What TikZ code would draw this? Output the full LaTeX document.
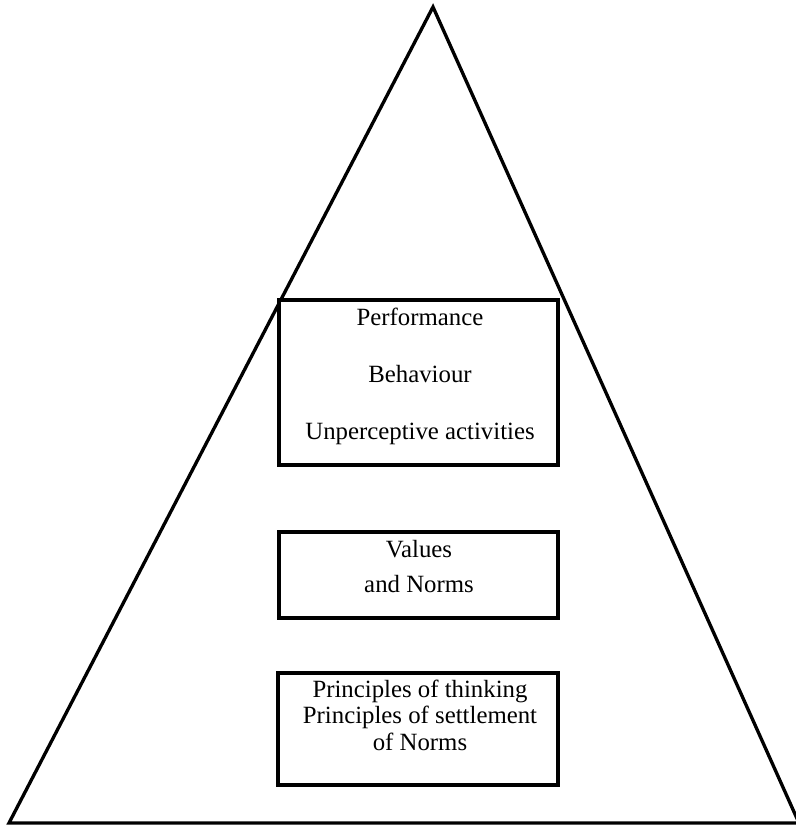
\documentclass[tikz,border=0pt]{standalone}
\usepackage{fontspec}
\setmainfont{Liberation Serif}
\begin{document}
\begin{tikzpicture}[x=0.75pt,y=-0.75pt,
  outline/.style={line width=2.5pt,line join=miter},
  panel/.style={draw,line width=2.6pt,rectangle,inner sep=0pt,fill=white},
  caption/.style={font=\fontsize{18.6}{22}\selectfont,anchor=base,inner sep=0pt}]
  \useasboundingbox (0,0) rectangle (795,827);
  % pyramid outline
  \coordinate (apex) at (433,7);
  \coordinate (baseL) at (9,823);
  \coordinate (baseR) at (799,823);
  \draw[outline] (apex) -- (baseR) -- (baseL) -- cycle;
  % the three levels
  \node[panel,minimum width=209.25pt,minimum height=123.75pt] (top) at (418.5,382.5) {};
  \node[panel,minimum width=209.25pt,minimum height=64.5pt] (mid) at (418.5,575) {};
  \node[panel,minimum width=210pt,minimum height=84pt] (low) at (418,729) {};
  % texts
  \node[caption] (t1) at (420,325) {Performance};
  \node[caption] (t2) at (420,382) {Behaviour};
  \node[caption] (t3) at (420,439) {Unperceptive activities};
  \node[caption] (m1) at (419,557) {Values};
  \node[caption] (m2) at (419,592) {and Norms};
  \node[caption] (l1) at (420,697) {Principles of thinking};
  \node[caption] (l2) at (420,723) {Principles of settlement};
  \node[caption] (l3) at (420,750) {of Norms};
\end{tikzpicture}
\end{document}
